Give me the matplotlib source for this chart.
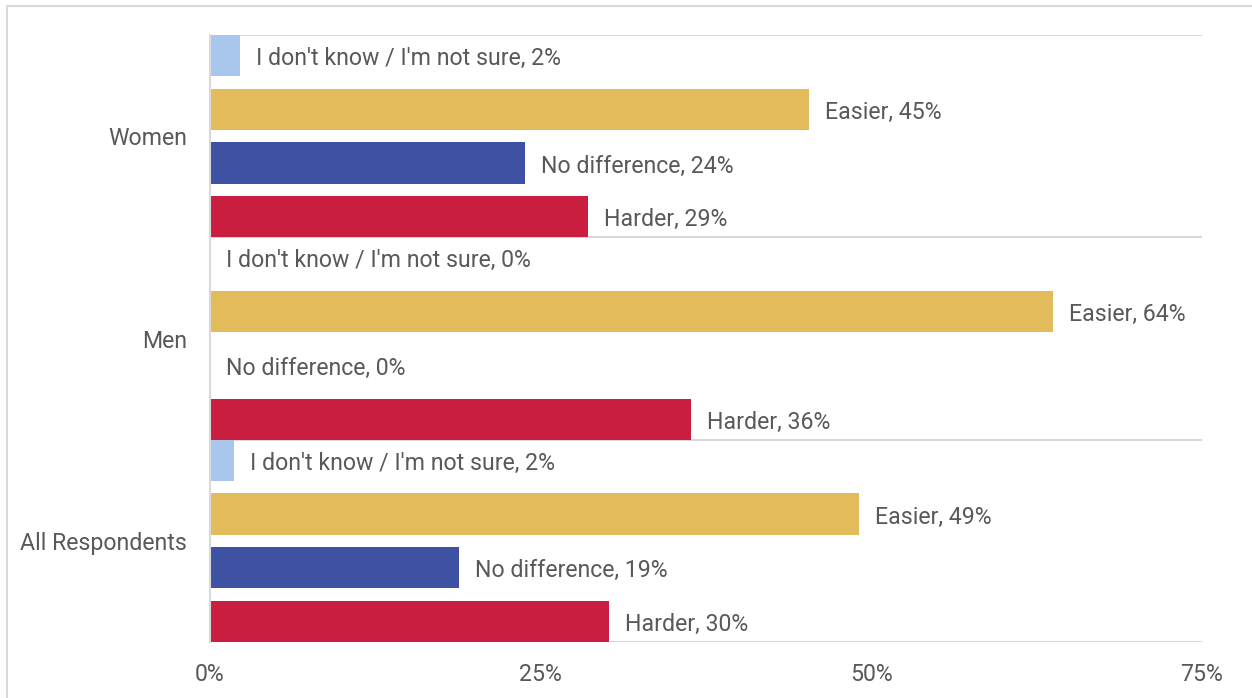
import matplotlib.pyplot as plt
from matplotlib.patches import Rectangle

groups = ['All Respondents', 'Men', 'Women']
answers = ['Harder', 'No difference', 'Easier', "I don't know / I'm not sure"]
colors = ['#C91E40', '#3F51A3', '#E2BB5B', '#A9C7EC']

# percentages per group, in the order of `answers`
all_resp = [30.2, 18.8, 49.1, 1.8]
men = [36.4, 0.0, 63.7, 0.0]
women = [28.6, 23.8, 45.3, 2.3]
values = [all_resp, men, women]

text_color = '#595959'
grid_color = '#D9D9D9'
plt.rcParams['font.family'] = ['Roboto', 'DejaVu Sans']

fig = plt.figure(figsize=(12.52, 6.98), dpi=100)
ax = fig.add_axes([210 / 1252, 56 / 698, 992 / 1252, 607 / 698])

# outer border of the chart area
fig.patches.append(Rectangle((7 / 1252, -0.05), 1.1, (698 - 6) / 698 + 0.05,
                             transform=fig.transFigure, fill=False,
                             edgecolor=grid_color, lw=1.5))

n = len(answers)
bar_h = 0.8125
gap = (n - n * bar_h) / (n - 1)
for g, vals in enumerate(values):
    for i, v in enumerate(vals):
        y = g * n + bar_h / 2 + i * (bar_h + gap)
        ax.barh(y, v, height=bar_h, color=colors[i])
        ax.annotate(f'{answers[i]}, {round(v)}%', (v, y), xytext=(11.5, -2.2),
                    textcoords='offset points', va='center', ha='left',
                    fontsize=16.7, color=text_color)

ax.set_xlim(0, 75)
ax.set_ylim(0, len(groups) * n)
ax.set_xticks([0, 25, 50, 75])
ax.set_xticklabels(['0%', '25%', '50%', '75%'])
ax.set_yticks([g * n + n / 2 for g in range(len(groups))])
ax.set_yticklabels(groups)
ax.tick_params(length=0, labelsize=16.7, labelcolor=text_color)
ax.tick_params(axis='x', pad=15)
ax.tick_params(axis='y', pad=16.5)

for b in range(len(groups) + 1):
    ax.axhline(b * n, color=grid_color, lw=1.5, zorder=0)
for s in ['top', 'right', 'bottom']:
    ax.spines[s].set_visible(False)
ax.spines['left'].set_color(grid_color)
ax.spines['left'].set_linewidth(1.5)

fig.savefig('out.png', dpi=100)
